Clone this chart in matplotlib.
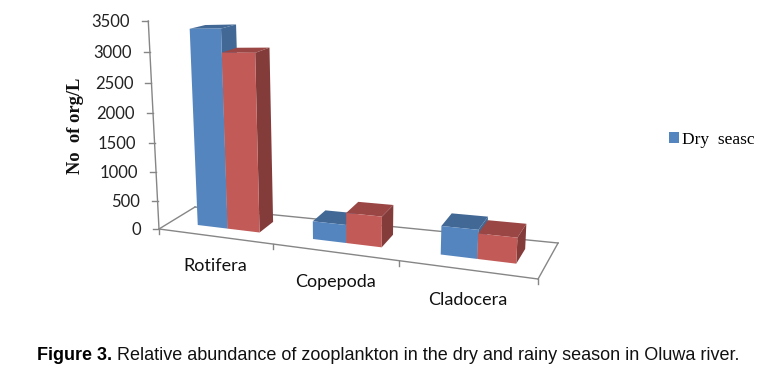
import matplotlib
matplotlib.use('Agg')
import matplotlib.pyplot as plt
from matplotlib.patches import Patch, Polygon

categories = ['Rotifera', 'Copepoda', 'Cladocera']
dry_season = [3330, 295, 440]
rainy_season = [2950, 490, 385]
y_ticks = [0, 500, 1000, 1500, 2000, 2500, 3000, 3500]

W, H = 773, 378
GRAY = '#868686'

# floor corners of the 3d box in pixels
FL, FR, BR, BL = (159, 229), (538, 279), (558, 243), (195, 207)


def project(u, d, v):
    # u is the category position (0 to 3), d the depth (0 to 1), v the value
    t = 0.2833 * u + 0.0167 * u ** 2  # categories get wider to the right
    fx, fy = FL[0] + t * (FR[0] - FL[0]), FL[1] + t * (FR[1] - FL[1])
    bx, by = BL[0] + t * (BR[0] - BL[0]), BL[1] + t * (BR[1] - BL[1])
    x, y = fx + d * (bx - fx), fy + d * (by - fy)
    lift = v * (0.05576 + 1.05e-6 * v) * (1 + 0.25 * t) * (1 - 0.07 * d)
    return x + (x - 350) * lift * 0.00027, y - lift


def bar(ax, u0, u1, value, front, side, top):
    d0, d1 = 0.33, 0.75
    p = project
    ax.add_patch(Polygon([p(u0, d0, value), p(u1, d0, value), p(u1, d1, value), p(u0, d1, value)],
                         fc=top, ec='none', zorder=3))
    ax.add_patch(Polygon([p(u1, d0, 0), p(u1, d1, 0), p(u1, d1, value), p(u1, d0, value)],
                         fc=side, ec='none', zorder=3))
    ax.add_patch(Polygon([p(u0, d0, 0), p(u1, d0, 0), p(u1, d0, value), p(u0, d0, value)],
                         fc=front, ec='none', zorder=3))


fig = plt.figure(figsize=(W / 100, H / 100), dpi=100)
ax = fig.add_axes([0, 0, 1, 1])
ax.set_xlim(0, W)
ax.set_ylim(H, 0)
ax.axis('off')

# floor outline and value axis
for a, c in [((0, 0), (3, 0)), ((0, 0), (0, 1)), ((0, 1), (3, 1)), ((3, 0), (3, 1))]:
    p0, p1 = project(a[0], a[1], 0), project(c[0], c[1], 0)
    ax.plot([p0[0], p1[0]], [p0[1], p1[1]], color=GRAY, lw=1, zorder=1)
for i in range(4):
    p0 = project(i, 0, 0)
    ax.plot([p0[0], p0[0]], [p0[1], p0[1] + 5], color=GRAY, lw=1, zorder=1)

pb, pt = project(0, 0, 0), project(0, 0, y_ticks[-1])
ax.plot([pb[0], pt[0]], [pb[1], pt[1]], color=GRAY, lw=1, zorder=1)
for t in y_ticks:
    px, py = project(0, 0, t)
    ax.plot([px - 6, px], [py, py], color=GRAY, lw=1, zorder=1)
    ax.text(px - 18, py + 1, str(t), ha='right', va='center', family='Lato', fontsize=12, color='#222222')

for i, name in enumerate(categories):
    bar(ax, i + 0.25, i + 0.52, dry_season[i], '#5585BE', '#426895', '#426895')
    bar(ax, i + 0.52, i + 0.80, rainy_season[i], '#C25B58', '#843C3B', '#9A4645')
    px, py = project(i + 0.5, 0, 0)
    ax.text(px + 1, py + 30, name, ha='center', va='center', family='Lato', fontsize=13, color='#111111')

ax.text(75, 126, 'No  of org/L', rotation=90, ha='center', va='center',
        family='Liberation Serif', weight='bold', fontsize=13.3, color='#111111')

ax.legend(handles=[Patch(fc='#5585BE', ec='none', label='Dry  seasc')], loc='center left',
          bbox_to_anchor=(669 / W, 1 - 140 / H), frameon=False, borderpad=0, borderaxespad=0,
          handlelength=0.58, handleheight=0.58, handletextpad=0.17,
          prop={'family': 'Liberation Serif', 'size': 12.5})

# caption, bold part first then the rest right after it
cap = ax.text(37, 355, 'Figure 3.', ha='left', va='center', family='Liberation Sans',
              weight='bold', fontsize=13, color='black')
fig.canvas.draw()
end = cap.get_window_extent().x1
ax.text(end + 5, 355, 'Relative abundance of zooplankton in the dry and rainy season in Oluwa river.',
        ha='left', va='center', family='Liberation Sans', fontsize=13, color='#111111')

fig.savefig('out.png', dpi=100)
